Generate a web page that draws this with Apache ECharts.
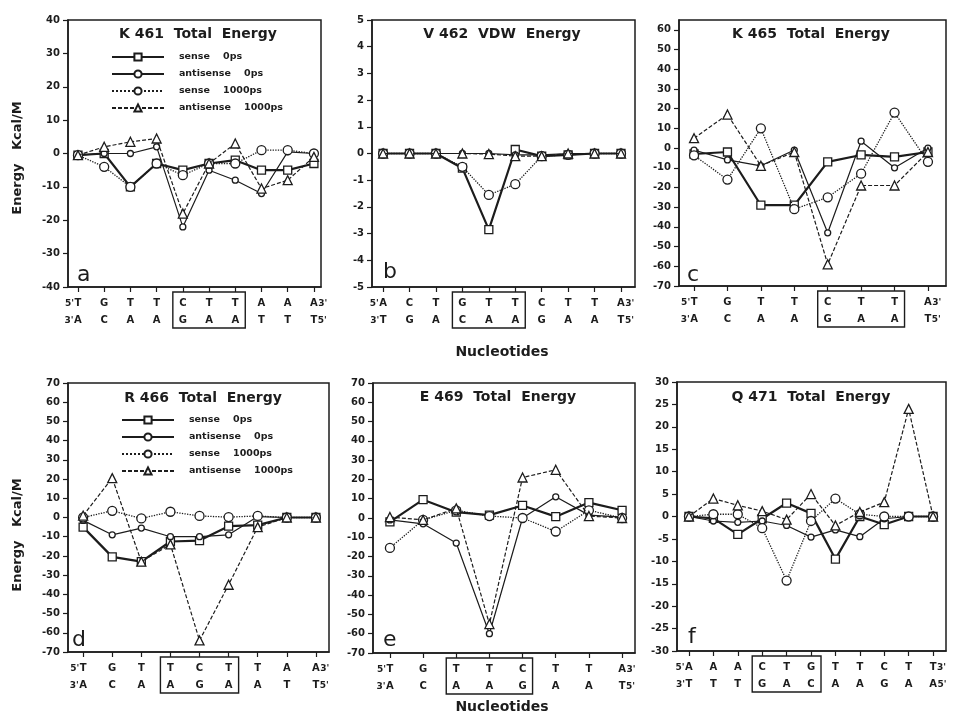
<!DOCTYPE html>
<html><head><meta charset="utf-8">
<script src="https://cdn.jsdelivr.net/npm/echarts@6/dist/echarts.min.js"></script>
<style>html,body{margin:0;padding:0;background:#fff}#c{width:954px;height:715px}</style>
</head><body><div id="c"></div>
<script>
// ---------- DATA ----------
const seriesNames = ['sense 0ps', 'antisense 0ps', 'sense 1000ps', 'antisense 1000ps'];

// a: K 461 Total Energy
const aTitle = 'K 461  Total  Energy';
const aTop = ['T','G','T','T','C','T','T','A','A','A'];
const aBot = ['A','C','A','A','G','A','A','T','T','T'];
const aSense0 = [-0.5, 0, -10, -3, -5, -3, -2, -5, -5, -3];
const aAnti0 = [-0.5, 0, 0, 2, -22, -5, -8, -12, 0.5, 0];
const aSense1000 = [-0.5, -4, -10, -3, -6.5, -3, -3, 1, 1, 0];
const aAnti1000 = [-0.5, 2, 3.5, 4.5, -18, -3, 3, -10.5, -8, -1];
const aYTicks = [-40, -30, -20, -10, 0, 10, 20, 30, 40];

// b: V 462 VDW Energy
const bTitle = 'V 462  VDW  Energy';
const bTop = ['A','C','T','G','T','T','C','T','T','A'];
const bBot = ['T','G','A','C','A','A','G','A','A','T'];
const bSense0 = [0, 0, 0, -0.55, -2.85, 0.15, -0.1, -0.05, 0, 0];
const bAnti0 = [0, 0, 0, 0, 0, -0.05, -0.05, 0, 0, 0];
const bSense1000 = [0, 0, 0, -0.5, -1.55, -1.15, -0.1, -0.05, 0, 0];
const bAnti1000 = [0, 0, 0, 0, -0.02, -0.1, -0.1, 0, 0, 0];
const bYTicks = [-5, -4, -3, -2, -1, 0, 1, 2, 3, 4, 5];

// c: K 465 Total Energy
const cTitle = 'K 465  Total  Energy';
const cTop = ['T','G','T','T','C','T','T','A'];
const cBot = ['A','C','A','A','G','A','A','T'];
const cSense0 = [-3, -2, -29, -29, -7, -3.5, -4.5, -2];
const cAnti0 = [-1, -6, -9, -1, -43, 3.5, -10, 0];
const cSense1000 = [-3.7, -16, 10, -31, -25, -13, 18, -7];
const cAnti1000 = [5, 17, -9, -2, -59, -19, -19, -2];
const cYTicks = [-70, -60, -50, -40, -30, -20, -10, 0, 10, 20, 30, 40, 50, 60];

// d: R 466 Total Energy
const dTitle = 'R 466  Total  Energy';
const dTop = ['T','G','T','T','C','T','T','A','A'];
const dBot = ['A','C','A','A','G','A','A','T','T'];
const dSense0 = [-5, -20.5, -23, -12.5, -12, -4.5, -4, 0, 0];
const dAnti0 = [-1.5, -9, -5.5, -10, -10, -9, 0.5, 0, 0];
const dSense1000 = [0, 3.5, -0.5, 3, 0.8, 0.2, 0.8, 0, 0];
const dAnti1000 = [1, 20.5, -23, -14, -64, -35, -5, 0, 0];
const dYTicks = [-70, -60, -50, -40, -30, -20, -10, 0, 10, 20, 30, 40, 50, 60, 70];

// e: E 469 Total Energy
const eTitle = 'E 469  Total  Energy';
const eTop = ['T','G','T','T','C','T','T','A'];
const eBot = ['A','C','A','A','G','A','A','T'];
const eSense0 = [-2, 9.5, 3, 1.5, 6.5, 0.7, 8, 4];
const eAnti0 = [-1, -3, -13, -60, 0, 11, 1.5, 0.5];
const eSense1000 = [-15.5, -1, 4, 1, 0, -7, 4, 0];
const eAnti1000 = [0.5, -1, 5, -55, 21, 25, 1, 0];
const eYTicks = [-70, -60, -50, -40, -30, -20, -10, 0, 10, 20, 30, 40, 50, 60, 70];

// f: Q 471 Total Energy
const fTitle = 'Q 471  Total  Energy';
const fTop = ['A','A','A','C','T','G','T','T','C','T','T'];
const fBot = ['T','T','T','G','A','C','A','A','G','A','A'];
const fSense0 = [0, -0.4, -4, -0.5, 3, 0.7, -9.5, 0, -1.8, 0, 0];
const fAnti0 = [0, -1, -1.3, -1, -2, -4.6, -3, -4.5, -0.5, 0, 0];
const fSense1000 = [0, 0.5, 0.5, -2.6, -14.3, -1, 4, 0.5, 0, 0, 0];
const fAnti1000 = [0, 4, 2.5, 1.2, -0.7, 5, -2, 1, 3.2, 24, 0];
const fYTicks = [-30, -25, -20, -15, -10, -5, 0, 5, 10, 15, 20, 25, 30];

const axisTitleX = 'Nucleotides';
const axisTitleY = 'Energy   Kcal/M';

// ---------- LAYOUT ----------
const INK = '#1c1c1c';
const FONT = '"DejaVu Sans", "Liberation Sans", Arial, sans-serif';
const panels = [
  {letter:'a', title:aTitle, top:aTop, bot:aBot, data:[aSense0,aAnti0,aSense1000,aAnti1000], yt:aYTicks,
   g:{left:68, top:20, width:253, height:267}, xmin:-0.38, xmax:9.27, ymin:-40, ymax:40, box:[4,6], tx:198, ty:34, lx:77, ly:275},
  {letter:'b', title:bTitle, top:bTop, bot:bBot, data:[bSense0,bAnti0,bSense1000,bAnti1000], yt:bYTicks,
   g:{left:372, top:20, width:263, height:267}, xmin:-0.42, xmax:9.53, ymin:-5, ymax:5, box:[3,5], tx:502, ty:34, lx:383, ly:272},
  {letter:'c', title:cTitle, top:cTop, bot:cBot, data:[cSense0,cAnti0,cSense1000,cAnti1000], yt:cYTicks,
   g:{left:679, top:20, width:267, height:266}, xmin:-0.45, xmax:7.54, ymin:-70, ymax:65, box:[4,6], tx:811, ty:34, lx:687, ly:275},
  {letter:'d', title:dTitle, top:dTop, bot:dBot, data:[dSense0,dAnti0,dSense1000,dAnti1000], yt:dYTicks,
   g:{left:68, top:383, width:261, height:269}, xmin:-0.52, xmax:8.45, ymin:-70, ymax:70, box:[3,5], tx:203, ty:398, lx:72, ly:640},
  {letter:'e', title:eTitle, top:eTop, bot:eBot, data:[eSense0,eAnti0,eSense1000,eAnti1000], yt:eYTicks,
   g:{left:373, top:383, width:262, height:270}, xmin:-0.51, xmax:7.39, ymin:-70, ymax:70, box:[2,4], tx:498, ty:397, lx:383, ly:640},
  {letter:'f', title:fTitle, top:fTop, bot:fBot, data:[fSense0,fAnti0,fSense1000,fAnti1000], yt:fYTicks,
   g:{left:677, top:382, width:269, height:269}, xmin:-0.49, xmax:10.53, ymin:-30, ymax:30, box:[3,5], tx:811, ty:397, lx:688, ly:637}
];

const styles = [
  {lineStyle:{type:'solid', width:2.2}, symbol:'rect', symbolSize:8},
  {lineStyle:{type:'solid', width:1.2}, symbol:'circle', symbolSize:6},
  {lineStyle:{type:'dotted', width:1.3}, symbol:'circle', symbolSize:9},
  {lineStyle:{type:[4,2], width:1.2}, symbol:'triangle', symbolSize:9}
];

const chart = echarts.init(document.getElementById('c'), null, {renderer:'canvas'});

const grid = [], xAxis = [], yAxis = [], series = [];
panels.forEach((p, k) => {
  grid.push(Object.assign({show:true, borderColor:INK, borderWidth:1.5, backgroundColor:'transparent'}, p.g));
  const idx = p.top.map((_, i) => i);
  const n = p.top.length;
  xAxis.push({
    gridIndex:k, type:'value', min:p.xmin, max:p.xmax,
    axisLine:{show:true, onZero:false, lineStyle:{color:INK, width:1.5}},
    axisTick:{show:true, customValues:idx, length:5, lineStyle:{color:INK, width:1.2}},
    splitLine:{show:false},
    axisLabel:{
      customValues:idx, margin:8, color:INK, fontSize:10, fontWeight:'bold', fontFamily:FONT, lineHeight:17,
      formatter:function(v){
        const i = Math.round(v);
        if (i === 0) return '{pre|5\'}' + p.top[i] + '{pad| }\n{pre|3\'}' + p.bot[i] + '{pad| }';
        if (i === n-1) return '{pad| }' + p.top[i] + '{post|3\'}\n{pad| }' + p.bot[i] + '{post|5\'}';
        return p.top[i] + '\n' + p.bot[i];
      },
      rich:{
        pre:{width:10, align:'right', fontSize:9, fontWeight:'bold', fontFamily:FONT, color:INK, lineHeight:17},
        post:{width:10, align:'left', fontSize:9, fontWeight:'bold', fontFamily:FONT, color:INK, lineHeight:17},
        pad:{width:10, fontSize:9, lineHeight:17}
      }
    }
  });
  yAxis.push({
    gridIndex:k, type:'value', min:p.ymin, max:p.ymax,
    axisLine:{show:true, onZero:false, lineStyle:{color:INK, width:1.5}},
    axisTick:{show:true, customValues:p.yt, length:5, lineStyle:{color:INK, width:1.2}},
    splitLine:{show:false},
    axisLabel:{customValues:p.yt, margin:8, color:INK, fontSize:10, fontWeight:'bold', fontFamily:FONT}
  });
  p.data.forEach((arr, s) => {
    series.push({
      name:seriesNames[s], type:'line', xAxisIndex:k, yAxisIndex:k,
      data:arr.map((v, i) => [i, v]),
      symbol:styles[s].symbol, symbolSize:styles[s].symbolSize, showSymbol:true,
      lineStyle:Object.assign({color:INK}, styles[s].lineStyle),
      itemStyle:{color:'#fff', borderColor:INK, borderWidth:1.3},
      emphasis:{disabled:true}, animation:false, z:3+s
    });
  });
});

const legendBase = {
  data:seriesNames, orient:'vertical', itemWidth:52, itemHeight:9, itemGap:7,
  selectedMode:false,
  formatter:function(n){ return '   ' + n.replace(' ', '    '); },
  textStyle:{fontSize:9.5, fontWeight:'bold', fontFamily:FONT, color:INK}
};
const legend = [
  Object.assign({}, legendBase, {left:106, top:47}),
  Object.assign({}, legendBase, {left:116, top:410})
];

chart.setOption({
  animation:false, backgroundColor:'#fff',
  grid, xAxis, yAxis, series, legend
});

// graphics: titles, letters, axis titles, boxes around labels (positions via scales)
const graphic = [];
panels.forEach((p, k) => {
  graphic.push({type:'text', x:p.tx, y:p.ty, z:10, style:{text:p.title, fill:INK, fontSize:14, fontWeight:'bold', fontFamily:FONT, align:'center', verticalAlign:'middle'}});
  graphic.push({type:'text', x:p.lx, y:p.ly, z:10, style:{text:p.letter, fill:INK, fontSize:22, fontFamily:FONT, align:'left', verticalAlign:'middle'}});
  const x0 = chart.convertToPixel({xAxisIndex:k}, p.box[0]) - 10;
  const x1 = chart.convertToPixel({xAxisIndex:k}, p.box[1]) + 10;
  const yb = chart.convertToPixel({yAxisIndex:k}, p.ymin);
  graphic.push({type:'rect', z:10, shape:{x:x0, y:yb+5, width:x1-x0, height:36}, style:{fill:'none', stroke:INK, lineWidth:1.4}});
});
const axStyle = {fill:INK, fontSize:14, fontWeight:'bold', fontFamily:FONT, align:'center', verticalAlign:'middle'};
graphic.push({type:'text', x:502, y:352, style:Object.assign({text:axisTitleX}, axStyle)});
graphic.push({type:'text', x:502, y:707, style:Object.assign({text:axisTitleX}, axStyle)});
graphic.push({type:'text', x:18, y:158, rotation:Math.PI/2, style:Object.assign({text:axisTitleY}, axStyle, {fontSize:13})});
graphic.push({type:'text', x:18, y:535, rotation:Math.PI/2, style:Object.assign({text:axisTitleY}, axStyle, {fontSize:13})});
chart.setOption({graphic});
</script></body></html>
